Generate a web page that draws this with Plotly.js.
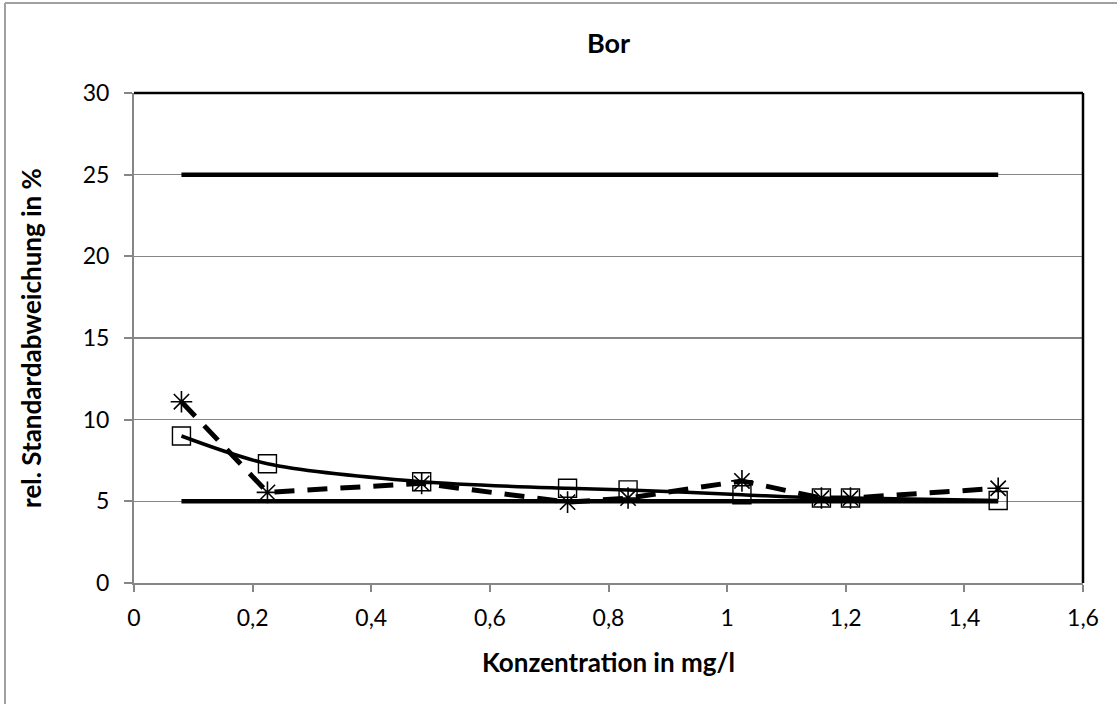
<!DOCTYPE html>
<html>
<head>
<meta charset="utf-8">
<script src="https://cdn.plot.ly/plotly-3.0.1.min.js"></script>
<style>
  html, body { margin: 0; padding: 0; background: #ffffff; }
  #chart { width: 1117px; height: 704px; }
</style>
</head>
<body>
<div id="chart"></div>
<script>
// Concentration (mg/l)
const concentration = [0.08, 0.225, 0.485, 0.731, 0.833, 1.025, 1.159, 1.208, 1.457];
// rel. standard deviation, series with squares (solid smoothed line)
const rsdSquares = [9.0, 7.3, 6.2, 5.8, 5.7, 5.4, 5.2, 5.2, 5.05];
// rel. standard deviation, series with stars (dashed line)
const rsdStars = [11.1, 5.55, 6.1, 4.95, 5.2, 6.25, 5.2, 5.2, 5.8];
// limit lines
const limitX = [0.08, 1.457];
const upperLimit = [25, 25];
const lowerLimit = [5, 5];

const yTicks = [0, 5, 10, 15, 20, 25, 30];
const xTicks = [0, 0.2, 0.4, 0.6, 0.8, 1, 1.2, 1.4, 1.6];
const xTickText = ["0", "0,2", "0,4", "0,6", "0,8", "1", "1,2", "1,4", "1,6"];

const FONT = "Lato, 'Open Sans', 'DejaVu Sans', sans-serif";

const traces = [
  { x: limitX, y: upperLimit, mode: "lines", line: { color: "#000000", width: 4.5 }, showlegend: false, hoverinfo: "skip" },
  { x: limitX, y: lowerLimit, mode: "lines", line: { color: "#000000", width: 4.5 }, showlegend: false, hoverinfo: "skip" },
  { x: concentration, y: rsdSquares, mode: "lines+markers",
    line: { color: "#000000", width: 3.5, shape: "spline", smoothing: 0.8 },
    marker: { symbol: "square-open", size: 18, color: "#000000", line: { width: 1.4, color: "#000000" } },
    showlegend: false },
  { x: concentration, y: rsdStars, mode: "lines+markers",
    line: { color: "#000000", width: 5, dash: "20px,13px" },
    marker: { symbol: "asterisk-open", size: 18, color: "#000000", line: { width: 1.6, color: "#000000" } },
    showlegend: false }
];

// frame / border helper coordinates (paper units) derived from margins
const L = 134, R = 34, T = 93, B = 121, W = 1117, H = 704;
const pw = W - L - R, ph = H - T - B;
const px = v => (v - L) / pw;
const py = v => (H - B - v) / ph;

const layout = {
  width: W, height: H,
  margin: { l: L, r: R, t: T, b: B, pad: 0 },
  paper_bgcolor: "#ffffff",
  plot_bgcolor: "#ffffff",
  font: { family: FONT, color: "#000000", size: 23 },
  title: { text: "<b>Bor</b>", font: { family: FONT, size: 27, color: "#000000" },
           x: 0.5, xref: "paper", xanchor: "center", y: 1 - 44 / H, yanchor: "middle" },
  xaxis: {
    range: [0, 1.6], tickmode: "array", tickvals: xTicks, ticktext: xTickText,
    showgrid: false, zeroline: false,
    showline: true, linecolor: "#868686", linewidth: 2,
    ticks: "outside", ticklen: 7, tickwidth: 2, tickcolor: "#868686",
    tickfont: { family: FONT, size: 23, color: "#000000" },
    ticklabelstandoff: 6,
    title: { text: "<b>Konzentration in mg/l</b>", font: { family: FONT, size: 26, color: "#000000" }, standoff: 24 }
  },
  yaxis: {
    range: [0, 30], tickmode: "array", tickvals: yTicks,
    showgrid: true, gridcolor: "#868686", gridwidth: 1.5, zeroline: false,
    showline: true, linecolor: "#868686", linewidth: 2,
    ticks: "outside", ticklen: 8, tickwidth: 2, tickcolor: "#868686",
    tickfont: { family: FONT, size: 23, color: "#000000" },
    ticklabelstandoff: 10,
    title: { text: "<b>rel. Standardabweichung in %</b>", font: { family: FONT, size: 26, color: "#000000" }, standoff: 34 }
  },
  shapes: [
    // plot-area border (top and right, black)
    { type: "line", xref: "paper", yref: "paper", x0: 0, x1: 1, y0: 1, y1: 1, line: { color: "#000000", width: 2.5 } },
    { type: "line", xref: "paper", yref: "paper", x0: 1, x1: 1, y0: 0, y1: 1, line: { color: "#000000", width: 2.5 } },
    // outer chart frame (gray)
    { type: "line", xref: "paper", yref: "paper", x0: px(5), x1: px(1117), y0: py(3), y1: py(3), line: { color: "#a0a0a0", width: 2 } },
    { type: "line", xref: "paper", yref: "paper", x0: px(5), x1: px(5), y0: py(3), y1: py(704), line: { color: "#a0a0a0", width: 2 } }
  ],
  showlegend: false
};

Plotly.newPlot("chart", traces, layout, { displayModeBar: false, staticPlot: true });
</script>
</body>
</html>
